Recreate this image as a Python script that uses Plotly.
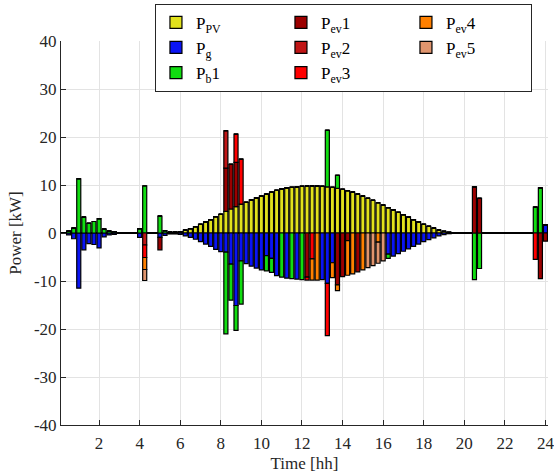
import plotly.graph_objects as go

# 15-minute time steps (hours)
time_h = [0.25 * k for k in range(1, 97)]

# Each list: 96 values (kW), 8 values per row = 2 hours per row
P_PV = [
    0, 0, 0, 0, 0, 0, 0, 0,
    0, 0, 0, 0, 0, 0, 0, 0,
    0, 0, 0, 0, 0, 0, 0.1, 0.3,
    0.6, 0.9, 1.3, 1.8, 2.3, 2.8, 3.4, 3.9,
    4.5, 5.0, 5.5, 6.0, 6.4, 6.9, 7.3, 7.7,
    8.1, 8.5, 8.9, 9.2, 9.4, 9.5, 9.6, 9.7,
    9.8, 9.8, 9.8, 9.7, 9.6, 9.5, 9.3, 9.1,
    8.8, 8.5, 8.1, 7.7, 7.2, 6.8, 6.3, 5.8,
    5.3, 4.8, 4.3, 3.8, 3.3, 2.8, 2.3, 1.8,
    1.4, 1.0, 0.6, 0.35, 0.15, 0.05, 0, 0,
    0, 0, 0, 0, 0, 0, 0, 0,
    0, 0, 0, 0, 0, 0, 0, 0,
]
P_g = [
    0, -0.4, -1.2, -11.5, -3.5, -2.2, -2.4, -3.1,
    -0.8, -0.4, -0.3, 0, 0, 0, 0, -0.9,
    0, 0, 0, -0.9, -0.5, -0.2, -0.2, -0.3,
    -0.6, -0.9, -1.3, -1.8, -2.3, -2.8, -3.4, -3.9,
    -4.0, -6.5, -15.1, -5.8, -6.4, -6.9, -7.3, -7.7,
    -4.7, -5.3, -8.9, 0, -9.4, 0, -9.6, 0,
    0, 0, 0, -9.7, -10.5, -6.2, 0, 0,
    0, 0, 0, 0, 0, 0, 0, 0,
    -4.4, -4.8, -4.3, -3.8, -3.3, -2.8, -2.3, -1.8,
    -1.4, -1.0, -0.6, -0.35, -0.15, -0.05, 0, 0,
    0, 0, 0, 0, 0, 0, 0, 0,
    0, 0, 0, 0, 0, 0, 0, 1.7,
]
P_b1 = [
    0, 0.4, 1.0, 11.3, 3.3, 2.0, 2.4, 3.0,
    0.8, 0.4, 0.3, 0, 0, 0, 0, 0.9,
    9.8, 0, 0, 3.5, 0.5, 0.2, 0.1, 0,
    0, 0, 0, 0, 0, 0, 0, 0,
    -17.0, -7.5, -5.2, -9.0, 0, 0, 0, 0,
    -3.2, -2.9, 0, -9.2, 0, -9.5, 0, -9.7,
    0, 0, 0, 0, 11.8, 0, 2.7, 0,
    0, 0, 0, 0, 0, 0, 0, 0,
    -0.9, 0, 0, 0, 0, 0, 0, 0,
    0, 0, 0, 0, 0, 0, 0, 0,
    0, -9.7, -7.4, 0, 0, 0, 0, 0,
    0, 0, 0, 0, 0, 5.4, 9.4, 0,
]
P_ev1 = [
    0, 0, 0, 0, 0, 0, 0, 0,
    0, 0, 0, 0, 0, 0, 0, 0,
    0, 0, 0, -2.6, 0, 0, 0, 0,
    0, 0, 0, 0, 0, 0, 0, 0,
    9.0, 9.3, 9.2, 0, 0, 0, 0, 0,
    0, 0, 0, 0, 0, 0, 0, 0,
    -9.2, 0, 0, 0, 0, 0, -10.8, -9.1,
    -1.6, 0, -8.1, 0, 0, 0, 0, 0,
    0, 0, 0, 0, 0, 0, 0, 0,
    0, 0, 0, 0, 0, 0, 0, 0,
    0, 9.6, 7.2, 0, 0, 0, 0, 0,
    0, 0, 0, 0, 0, 0, -9.5, -1.7,
]
P_ev2 = [
    0, 0, 0, 0, 0, 0, 0, 0,
    0, 0, 0, 0, 0, 0, 0, 0,
    -2.5, 0, 0, 0, 0, 0, 0, 0,
    0, 0, 0, 0, 0, 0, 0, 0,
    7.8, 0, 0, 0, 0, 0, 0, 0,
    0, 0, 0, 0, 0, 0, 0, 0,
    0, 0, 0, 0, 0, 0, 0, 0,
    0, 0, 0, 0, 0, 0, 0, 0,
    0, 0, 0, 0, 0, 0, 0, 0,
    0, 0, 0, 0, 0, 0, 0, 0,
    0, 0, 0, 0, 0, 0, 0, 0,
    0, 0, 0, 0, 0, 0, 0, 0,
]
P_ev3 = [
    0, 0, 0, 0, 0, 0, 0, 0,
    0, 0, 0, 0, 0, 0, 0, 0,
    -2.6, 0, 0, 0, 0, 0, 0, 0,
    0, 0, 0, 0, 0, 0, 0, 0,
    0, 0, 5.9, 9.4, 0, 0, 0, 0,
    0, 0, 0, 0, 0, 0, 0, 0,
    -0.6, -5.4, 0, 0, -10.9, 0, 0, 0,
    0, 0, 0, 0, 0, 0, 0, 0,
    0, 0, 0, 0, 0, 0, 0, 0,
    0, 0, 0, 0, 0, 0, 0, 0,
    0, 0, 0, 0, 0, 0, 0, 0,
    0, 0, 0, 0, 0, -5.5, 0, 0,
]
P_ev4 = [
    0, 0, 0, 0, 0, 0, 0, 0,
    0, 0, 0, 0, 0, 0, 0, 0,
    -2.5, 0, 0, 0, 0, 0, 0, 0,
    0, 0, 0, 0, 0, 0, 0, 0,
    0, 0, 0, 0, 0, 0, 0, 0,
    0, 0, 0, 0, 0, 0, 0, 0,
    0, -4.4, -9.8, 0, 0, -3.1, -1.2, 0,
    -7.2, -8.5, 0, -7.7, 0, 0, -1.9, 0,
    0, 0, 0, 0, 0, 0, 0, 0,
    0, 0, 0, 0, 0, 0, 0, 0,
    0, 0, 0, 0, 0, 0, 0, 0,
    0, 0, 0, 0, 0, 0, 0, 0,
]
P_ev5 = [
    0, 0, 0, 0, 0, 0, 0, 0,
    0, 0, 0, 0, 0, 0, 0, 0,
    -2.3, 0, 0, 0, 0, 0, 0, 0,
    0, 0, 0, 0, 0, 0, 0, 0,
    0, 0, 0, 0, 0, 0, 0, 0,
    0, 0, 0, 0, 0, 0, 0, 0,
    0, 0, 0, 0, 0, 0, 0, 0,
    0, 0, 0, 0, -7.2, -6.8, -4.4, -5.8,
    0, 0, 0, 0, 0, 0, 0, 0,
    0, 0, 0, 0, 0, 0, 0, 0,
    0, 0, 0, 0, 0, 0, 0, 0,
    0, 0, 0, 0, 0, 0, 0, 0,
]

series_names = ["P<sub>PV</sub>", "P<sub>g</sub>", "P<sub>b</sub>1", "P<sub>ev</sub>1",
                "P<sub>ev</sub>2", "P<sub>ev</sub>3", "P<sub>ev</sub>4", "P<sub>ev</sub>5"]
series_values = [P_PV, P_g, P_b1, P_ev1, P_ev2, P_ev3, P_ev4, P_ev5]
series_colors = ["#e1e11c", "#0a14f5", "#11dd11", "#9c0000",
                 "#c01616", "#ff0000", "#ff8000", "#e0956e"]
# legend filled column-wise like the reference (3 columns)
legend_ranks = [1, 4, 7, 2, 5, 8, 3, 6]

x_tick_vals = [2, 4, 6, 8, 10, 12, 14, 16, 18, 20, 22, 24]
y_tick_vals = [-40, -30, -20, -10, 0, 10, 20, 30, 40]
y_tick_text = ["-40", "-30", "-20", "-10", "0", "10", "20", "30", "40"]

FONT = "Liberation Serif"
fig = go.Figure()
for name, vals, col, rank in zip(series_names, series_values, series_colors, legend_ranks):
    fig.add_trace(go.Bar(
        x=time_h, y=vals, name=name, legendrank=rank,
        marker=dict(color=col, line=dict(color="black", width=1.2)),
    ))

fig.update_layout(
    width=554, height=473,
    barmode="relative", bargap=0.2,
    paper_bgcolor="white", plot_bgcolor="white",
    margin=dict(l=61, r=6, t=41, b=48, autoexpand=False),
    font=dict(family=FONT, size=16, color="#262626"),
    legend=dict(
        orientation="h", xref="paper", yref="container",
        x=0.58, xanchor="center", y=0.992, yanchor="top",
        entrywidth=80, traceorder="normal",
        bgcolor="white", bordercolor="#262626", borderwidth=1,
        font=dict(family=FONT, size=17, color="black"),
        tracegroupgap=0,
    ),
    xaxis=dict(
        range=[0.125, 24.125], tickvals=x_tick_vals,
        showgrid=True, gridcolor="#e3e3e3", gridwidth=1,
        showline=True, linecolor="#262626", linewidth=1,
        ticks="inside", ticklen=5, tickcolor="#262626",
        tickfont=dict(family=FONT, size=17), ticklabelstandoff=3,
        ticklabeloverflow="allow",
        title=dict(text="Time [hh]", font=dict(family=FONT, size=17), standoff=4),
        zeroline=False, automargin=False,
    ),
    yaxis=dict(
        range=[-40, 40], tickvals=y_tick_vals, ticktext=y_tick_text,
        showgrid=True, gridcolor="#e3e3e3", gridwidth=1,
        showline=True, linecolor="#262626", linewidth=1,
        ticks="inside", ticklen=5, tickcolor="#262626",
        tickfont=dict(family=FONT, size=17),
        zeroline=True, zerolinecolor="black", zerolinewidth=2,
        title=dict(text="Power [kW]", font=dict(family=FONT, size=17), standoff=7),
        automargin=False,
    ),
)

# remove the browser's default 8px page margin so the figure fills the window
fig.write_html(
    "out.html",
    config={"displayModeBar": False},
    post_script="document.body.style.margin='0';",
)
